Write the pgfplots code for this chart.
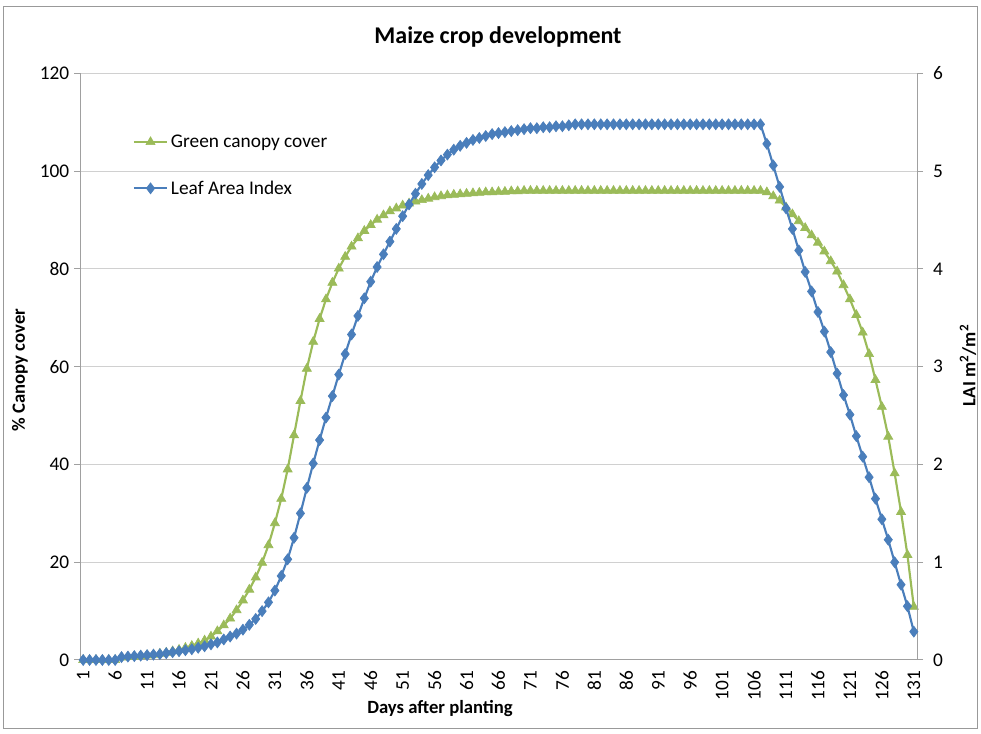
\documentclass[border=0pt]{standalone}
\usepackage{pgfplots}
\pgfplotsset{compat=1.18}
\usepackage{pgfplotstable}
\usepackage{fontspec}
\setmainfont{Carlito}
\definecolor{ccgreen}{HTML}{9BBB59}
\definecolor{laiblue}{HTML}{4A7EBB}
\definecolor{gridc}{HTML}{D0D0D0}
\definecolor{axc}{HTML}{A0A0A0}
\pgfplotstableread{
day cc lai
1 0 0
2 0 0
3 0 0
4 0 0
5 0 0
6 0 0
7 0.5 0.03
8 0.6 0.035
9 0.7 0.04
10 0.8 0.045
11 0.95 0.05
12 1.1 0.055
13 1.3 0.06
14 1.5 0.07
15 1.8 0.08
16 2.1 0.09
17 2.5 0.10
18 2.9 0.11
19 3.4 0.125
20 4.0 0.14
21 4.8 0.16
22 5.9 0.18
23 7.1 0.21
24 8.5 0.24
25 10.2 0.27
26 12.2 0.31
27 14.4 0.36
28 16.9 0.42
29 19.9 0.50
30 23.5 0.59
31 28.0 0.71
32 33.0 0.86
33 39.0 1.03
34 46.0 1.25
35 53.0 1.50
36 59.6 1.76
37 65.1 2.01
38 69.8 2.25
39 73.8 2.48
40 77.2 2.70
41 80.1 2.92
42 82.5 3.13
43 84.6 3.33
44 86.3 3.52
45 87.8 3.70
46 89.0 3.87
47 90.1 4.02
48 91.0 4.15
49 91.8 4.28
50 92.4 4.41
51 93.0 4.54
52 93.4 4.66
53 93.8 4.77
54 94.1 4.87
55 94.4 4.96
56 94.7 5.04
57 94.9 5.11
58 95.1 5.17
59 95.2 5.22
60 95.3 5.26
61 95.4 5.29
62 95.5 5.32
63 95.6 5.34
64 95.7 5.36
65 95.7 5.38
66 95.8 5.39
67 95.8 5.40
68 95.9 5.41
69 95.9 5.42
70 96.0 5.43
71 96.0 5.44
72 96.0 5.44
73 96.0 5.45
74 96.0 5.45
75 96.0 5.46
76 96.0 5.46
77 96.0 5.47
78 96.0 5.48
79 96.0 5.48
80 96.0 5.48
81 96.0 5.48
82 96.0 5.48
83 96.0 5.48
84 96.0 5.48
85 96.0 5.48
86 96.0 5.48
87 96.0 5.48
88 96.0 5.48
89 96.0 5.48
90 96.0 5.48
91 96.0 5.48
92 96.0 5.48
93 96.0 5.48
94 96.0 5.48
95 96.0 5.48
96 96.0 5.48
97 96.0 5.48
98 96.0 5.48
99 96.0 5.48
100 96.0 5.48
101 96.0 5.48
102 96.0 5.48
103 96.0 5.48
104 96.0 5.48
105 96.0 5.48
106 96.0 5.48
107 96.0 5.48
108 95.7 5.28
109 94.9 5.06
110 94.0 4.84
111 92.6 4.62
112 91.2 4.41
113 89.8 4.19
114 88.4 3.97
115 86.9 3.77
116 85.4 3.56
117 83.6 3.36
118 81.6 3.15
119 79.5 2.93
120 76.7 2.71
121 73.8 2.51
122 70.6 2.29
123 67.0 2.08
124 62.6 1.87
125 57.3 1.65
126 51.8 1.44
127 45.7 1.23
128 38.2 1.00
129 30.3 0.77
130 21.5 0.55
131 10.9 0.29
}\data
\pgfplotsset{
  greenstyle/.style={ccgreen, line width=1.6pt, mark=triangle*, mark size=3.9pt, mark options={solid, fill=ccgreen, draw=ccgreen, line width=0.5pt}},
  bluestyle/.style={laiblue, line width=1.6pt, mark=diamond*, mark size=4.1pt, mark options={solid, fill=laiblue, draw=laiblue, line width=0.5pt}},
  common/.style={
    at={(0pt,0pt)}, anchor=south west,
    width=627.75pt, height=439.9pt, scale only axis,
    xmin=0.5, xmax=131.5,
    tick align=outside, major tick length=4.5pt,
    every tick/.style={axc, line width=0.75pt},
    axis line style={axc, line width=0.75pt},
    /pgf/number format/assume math mode=true,
    tick label style={font=\fontsize{14.5}{17}\selectfont, black},
  }
}
\begin{document}
\begin{tikzpicture}
\path[use as bounding box] (-60pt,-55.5pt) rectangle (675.75pt,495pt);
\fill[white] (-60pt,-55.5pt) rectangle (675.75pt,495pt);
\draw[black!40, line width=0.75pt] (-57pt,-51.75pt) rectangle (672.75pt,489.75pt);
\begin{axis}[common,
  ymin=0, ymax=120, ytick={0,20,...,120},
  xtick={1,6,...,131},
  axis x line*=bottom, axis y line*=left,
  xtick style={draw=none},
  xticklabel style={rotate=90, anchor=east, yshift=0pt},
  ymajorgrids, grid style={gridc, line width=0.75pt},
  legend style={at={(0.058,0.905)}, anchor=north west, draw=none, fill=none,
    font=\fontsize{14.5}{17}\selectfont, row sep=19.5pt},
  legend cell align=left,
  legend image code/.code={\draw[mark repeat=2,mark phase=2] plot coordinates {(0pt,0pt) (12.5pt,0pt) (25pt,0pt)};},
]
\addplot[greenstyle] table[x=day,y=cc]{\data};
\addlegendentry{Green canopy cover}
\addlegendimage{bluestyle}
\addlegendentry{Leaf Area Index}
\end{axis}
\begin{axis}[common,
  ymin=0, ymax=6, ytick={0,1,...,6},
  axis y line*=right, axis x line=none,
  yticklabel style={xshift=4pt},
]
\addplot[bluestyle] table[x=day,y=lai]{\data};
\end{axis}
\node[font=\bfseries\fontsize{18}{21}\selectfont] at (313.5pt,467.25pt) {Maize crop development};
\node[rotate=90, font=\bfseries\fontsize{14}{16}\selectfont] at (-45pt,217.5pt) {\% Canopy cover};
\node[rotate=90, font=\bfseries\fontsize{14}{16}\selectfont] at (666pt,221pt) {LAI m\textsuperscript{2}/m\textsuperscript{2}};
\node[font=\bfseries\fontsize{14}{16}\selectfont] at (270pt,-36.75pt) {Days after planting};
\end{tikzpicture}
\end{document}
